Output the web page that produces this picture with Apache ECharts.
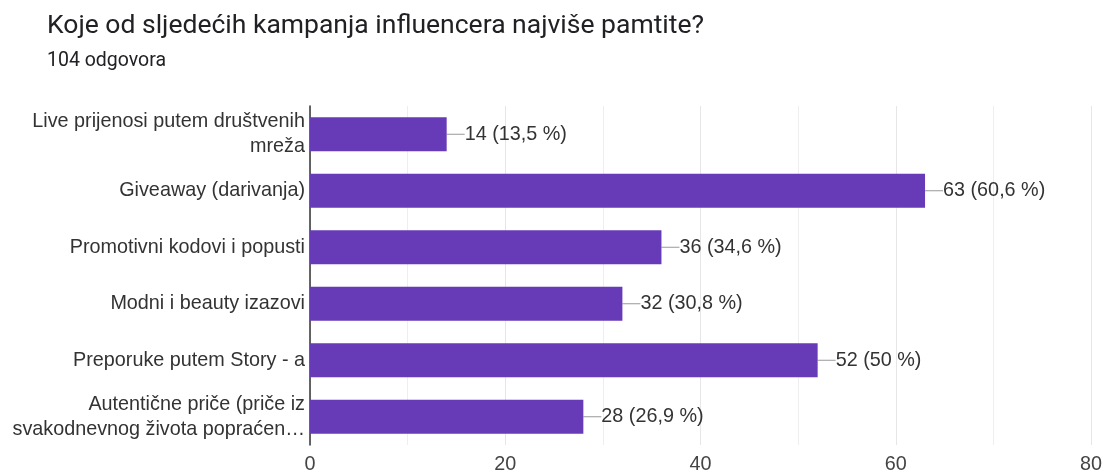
<!DOCTYPE html>
<html>
<head>
<meta charset="utf-8">
<script src="https://cdn.jsdelivr.net/npm/echarts@6/dist/echarts.min.js"></script>
<style>
  html, body { margin: 0; padding: 0; background: #fff; }
  #demo { width: 1107px; height: 473px; }
</style>
</head>
<body>
<div id="demo"></div>
<script>
// podaci s grafikona
const categories = [
  'Live prijenosi putem društvenih\nmreža',
  'Giveaway (darivanja)',
  'Promotivni kodovi i popusti',
  'Modni i beauty izazovi',
  'Preporuke putem Story - a',
  'Autentične priče (priče iz\nsvakodnevnog života popraćen…'
];
const counts = [14, 63, 36, 32, 52, 28];
const percents = ['13,5', '60,6', '34,6', '30,8', '50', '26,9'];
const xTicks = [0, 20, 40, 60, 80];

const FONT = 'Liberation Sans';

const myChart = echarts.init(document.getElementById('demo'));
myChart.setOption({
  animation: false,
  title: {
    text: 'Koje od sljedećih kampanja influencera najviše pamtite?',
    subtext: '104 odgovora',
    left: 42,
    top: 8,
    itemGap: 11,
    textStyle: { fontFamily: 'Roboto', fontSize: 26.5, fontWeight: 'normal', color: '#202124' },
    subtextStyle: { fontFamily: 'Roboto', fontSize: 19.5, color: '#202124' }
  },
  grid: { left: 310, right: 16, top: 106, bottom: 28, outerBoundsMode: 'none' },
  xAxis: {
    type: 'value',
    min: xTicks[0],
    max: xTicks[xTicks.length - 1],
    interval: 20,
    axisLine: { show: false },
    axisTick: { show: false },
    axisLabel: { fontFamily: FONT, fontSize: 19.8, color: '#444', margin: 10 },
    splitLine: { lineStyle: { color: '#e6e6e6' } },
    minorTick: { show: false, splitNumber: 2 },
    minorSplitLine: { show: true, lineStyle: { color: '#eeeeee' } }
  },
  yAxis: {
    type: 'category',
    inverse: true,
    data: categories,
    axisLine: { lineStyle: { color: '#333', width: 1.5 } },
    axisTick: { show: false },
    axisLabel: { fontFamily: FONT, fontSize: 19.8, color: '#333', lineHeight: 25, margin: 5 }
  },
  series: [{
    type: 'bar',
    data: counts,
    barWidth: '60%',
    itemStyle: { color: '#673ab7' },
    label: {
      show: true,
      position: 'right',
      distance: 0,
      fontFamily: FONT,
      fontSize: 19.8,
      color: '#333',
      formatter: p => counts[p.dataIndex] + ' (' + percents[p.dataIndex] + ' %)'
    },
    labelLayout: { dx: 18 },
    labelLine: { show: true, lineStyle: { color: '#999', width: 1 } }
  }]
});
</script>
</body>
</html>
